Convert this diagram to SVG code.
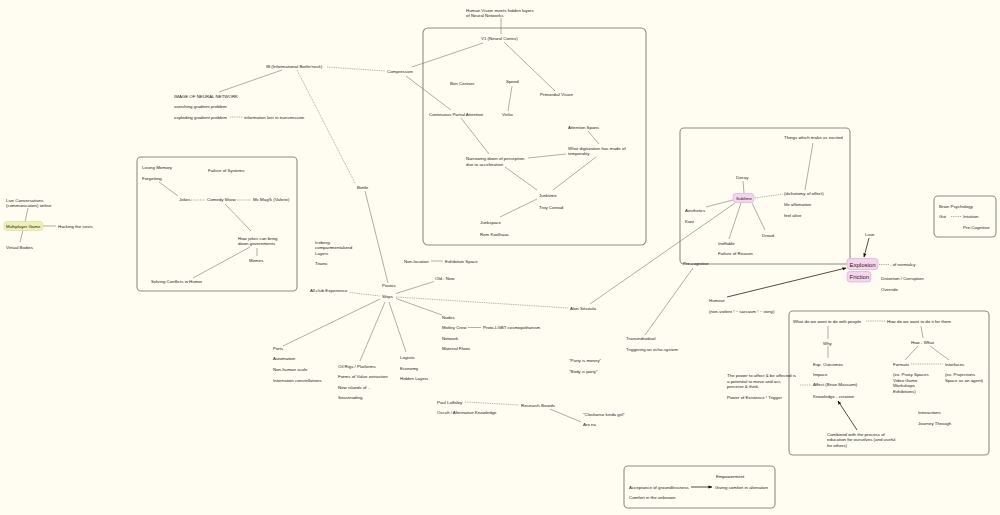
<svg xmlns="http://www.w3.org/2000/svg" width="1000" height="515" viewBox="0 0 1000 515">
<defs>
<style>
text{font-family:"Liberation Sans",Arial,sans-serif;font-size:4.4px;fill:#222}
.big{font-size:6px}
.l{stroke:#7a7a74;stroke-width:0.6;fill:none}
.d{stroke-dasharray:1 0.8}
.a{stroke:#222;stroke-width:0.8;fill:none}
.box{fill:none;stroke:#8e8e86;stroke-width:1.1}
.pk{fill:#f6d4ec;stroke:#e2aed4;stroke-width:0.7}
.yl{fill:#eff0b6;stroke:#dfe0a0;stroke-width:0.7}
</style>
<marker id="ar" viewBox="0 0 10 10" refX="9" refY="5" markerWidth="5" markerHeight="5" orient="auto"><path d="M0,1 L10,5 L0,9 z" fill="#111"/></marker>
</defs>
<rect width="1000" height="515" fill="#fffdf1"/>
<g id="boxes">
<rect class="box" x="137" y="157" width="160" height="134" rx="4"/>
<rect class="box" x="423" y="28" width="223" height="217" rx="5"/>
<rect class="box" x="680" y="128" width="170" height="136" rx="4"/>
<rect class="box" x="934" y="196" width="62" height="41" rx="4"/>
<rect class="box" x="789" y="311" width="200" height="144" rx="4"/>
<rect class="box" x="624" y="466" width="151" height="42" rx="4"/>
</g>
<g id="connectors">
<line class="l" x1="501" y1="18" x2="501" y2="34"/>
<line class="l" x1="412" y1="67" x2="483" y2="43"/>
<line class="l" x1="504" y1="42" x2="555" y2="91"/>
<line class="l" x1="512" y1="86" x2="508" y2="111"/>
<line class="l" x1="406" y1="76" x2="451" y2="110"/>
<line class="l" x1="461" y1="118" x2="489" y2="154"/>
<line class="l" x1="588" y1="131" x2="599" y2="144"/>
<line class="l" x1="528" y1="158" x2="566" y2="154"/>
<line class="l" x1="596" y1="157" x2="553" y2="190"/>
<line class="l" x1="505" y1="167" x2="537" y2="190"/>
<line class="l" x1="537" y1="199" x2="500" y2="217"/>
<line class="l" x1="219" y1="92" x2="282" y2="70"/>
<line class="l d" x1="327" y1="67" x2="385" y2="71"/>
<line class="l d" x1="230" y1="117" x2="243" y2="117"/>
<line class="l d" x1="297" y1="70" x2="355" y2="183"/>
<line class="l" x1="365" y1="191" x2="388" y2="283"/>
<line class="l" x1="813" y1="143" x2="805" y2="190"/>
<line class="l" x1="743" y1="181" x2="744" y2="193"/>
<line class="l d" x1="755" y1="198" x2="783" y2="194"/>
<line class="l" x1="752" y1="203" x2="765" y2="230"/>
<line class="l" x1="706" y1="207" x2="733" y2="200"/>
<line class="l" x1="741" y1="203" x2="729" y2="239"/>
<line class="l" x1="735" y1="203" x2="590" y2="304"/>
<line class="l" x1="693" y1="268" x2="645" y2="335"/>
<line class="l d" x1="396" y1="297" x2="568" y2="308"/>
<line class="a" x1="727" y1="297" x2="846" y2="268" marker-end="url(#ar)"/>
<line class="a" x1="869" y1="238" x2="864" y2="257" marker-end="url(#ar)"/>
<line class="l d" x1="879" y1="264.5" x2="889" y2="264.5"/>
<line class="l d" x1="951" y1="216.5" x2="962" y2="216.5"/>
<line class="l d" x1="866" y1="321" x2="885" y2="321"/>
<line class="l" x1="828" y1="326" x2="828" y2="339"/>
<line class="l" x1="921" y1="326" x2="923" y2="338"/>
<line class="l" x1="828" y1="346" x2="828" y2="358"/>
<line class="a" x1="857" y1="430" x2="838" y2="401" marker-end="url(#ar)"/>
<line class="l d" x1="800" y1="385" x2="811" y2="385"/>
<line class="l" x1="918" y1="346" x2="905" y2="360"/>
<line class="l" x1="930" y1="346" x2="949" y2="360"/>
<line class="l d" x1="911" y1="364" x2="943" y2="364"/>
<line class="a" x1="691" y1="487" x2="712" y2="487" marker-end="url(#ar)"/>
<line class="l" x1="28" y1="208" x2="25" y2="222"/>
<line class="l" x1="23" y1="230" x2="20" y2="242"/>
<line class="l" x1="43" y1="226" x2="56" y2="226"/>
<line class="l" x1="159" y1="182" x2="178" y2="196"/>
<line class="l d" x1="191" y1="200" x2="205" y2="200"/>
<line class="l d" x1="237" y1="200" x2="251" y2="200"/>
<line class="l" x1="225" y1="204" x2="251" y2="231"/>
<line class="l" x1="257" y1="248" x2="257" y2="256"/>
<line class="l" x1="250" y1="247" x2="193" y2="278"/>
<line class="l" x1="431" y1="261" x2="443" y2="261"/>
<line class="l d" x1="350" y1="292.5" x2="380" y2="296"/>
<line class="l" x1="396" y1="293.5" x2="434" y2="281.5"/>
<line class="l" x1="396" y1="298.5" x2="442" y2="315"/>
<line class="l" x1="468" y1="327.5" x2="481" y2="327.5"/>
<line class="l" x1="389" y1="302" x2="406" y2="352"/>
<line class="l" x1="385" y1="302" x2="360" y2="361"/>
<line class="l" x1="380" y1="299" x2="283" y2="346"/>
<line class="l d" x1="465" y1="402" x2="519" y2="405"/>
<line class="l" x1="550" y1="409" x2="581" y2="422"/>
</g>
<g id="n-vision"><text x="466" y="11.6">Human Vision meets hidden layers</text><text x="466" y="17.1">of Neural Networks</text></g>
<g id="n-v1"><text x="481" y="39.6">V1 (Neural Cortex)</text></g>
<g id="n-ben"><text x="450" y="84.6">Ben Cervani</text></g>
<g id="n-speed"><text x="506" y="82.6">Speed</text></g>
<g id="n-primordial"><text x="540" y="96.1">Primordial Vision</text></g>
<g id="n-virilio"><text x="502" y="116.1">Virilio</text></g>
<g id="n-cpa"><text x="429" y="115.6">Continuous Partial Attention</text></g>
<g id="n-compression"><text x="387" y="72.6">Compression</text></g>
<g id="n-ib"><text x="266" y="67.6">IB (Informational Bottle'neck)</text></g>
<g id="n-image"><text x="174" y="97.6">IMAGE OF NEURAL NETWORK</text></g>
<g id="n-vanishing"><text x="174" y="108.1">vanishing gradient problem</text></g>
<g id="n-exploding"><text x="174" y="118.6">exploding gradient problem</text></g>
<g id="n-info"><text x="244" y="118.6">information lost in transmission</text></g>
<g id="n-narrowing"><text x="466" y="160.1">Narrowing down of perception</text><text x="466" y="165.6">due to acceleration</text></g>
<g id="n-attention"><text x="568" y="128.6">Attention Spans</text></g>
<g id="n-digit"><text x="568" y="149.6">What digitization has made of</text><text x="568" y="155.1">temporality</text></g>
<g id="n-junktime"><text x="539" y="196.6">Junktime</text></g>
<g id="n-troy"><text x="539" y="208.6">Troy Conrad</text></g>
<g id="n-junkspace"><text x="480" y="224.1">Junkspace</text></g>
<g id="n-rem"><text x="480" y="235.6">Rem Koolhaas</text></g>
<g id="n-bottle"><text x="357" y="188.6">Bottle</text></g>
<g id="n-things"><text x="784" y="139.1">Things which make us excited</text></g>
<g id="n-dichotomy"><text x="784" y="195.1">(dichotomy of affect)</text></g>
<g id="n-life"><text x="784" y="205.6">life affirmation</text></g>
<g id="n-feel"><text x="784" y="216.6">feel alive</text></g>
<g id="n-decay"><text x="736" y="178.6">Decay</text></g>
<g id="n-sublime"><rect class="pk" x="733" y="193.5" width="21" height="9" rx="3"/><text x="736" y="199.6">Sublime</text></g>
<g id="n-dread"><text x="762" y="236.6">Dread</text></g>
<g id="n-aesthetics"><text x="685" y="211.6">Aesthetics</text></g>
<g id="n-kant"><text x="685" y="222.6">Kant</text></g>
<g id="n-ineffable"><text x="718" y="244.6">Ineffable</text></g>
<g id="n-failure-reason"><text x="718" y="255.1">Failure of Reason</text></g>
<g id="n-precog"><text x="683" y="264.6">Pre-cognitive</text></g>
<g id="n-alan"><text x="570" y="310.1">Alan Sécoula</text></g>
<g id="n-trans"><text x="626" y="339.6">Transindividual</text></g>
<g id="n-trigger-echo"><text x="626" y="350.6">Triggering an echo-system</text></g>
<g id="n-humour"><text x="709" y="301.6">Humour</text></g>
<g id="n-nonviolent"><text x="709" y="312.6">(non-violent ! ~ sarcasm ! ~ irony)</text></g>
<g id="n-love"><text x="865" y="235.6">Love</text></g>
<g id="n-explosion"><rect class="pk" x="847" y="258.5" width="31" height="11" rx="3"/><text class="big" x="849.5" y="266.6">Explosion</text></g>
<g id="n-friction"><rect class="pk" x="847" y="271.5" width="24" height="10.5" rx="3"/><text class="big" x="849.5" y="279.2">Friction</text></g>
<g id="n-normalcy"><text x="890" y="266.1">- of normalcy</text></g>
<g id="n-distortion"><text x="881" y="280.1">Distortion / Corruption</text></g>
<g id="n-override"><text x="881" y="290.6">Override</text></g>
<g id="n-brain"><text x="939" y="207.6">Brain Psychology</text></g>
<g id="n-gut"><text x="939" y="218.1">Gut</text></g>
<g id="n-intuition"><text x="963" y="218.1">Intuition</text></g>
<g id="n-precog2"><text x="963" y="228.6">Pre-Cognitive</text></g>
<g id="n-whatdo"><text x="793" y="322.6">What do we want to do with people</text></g>
<g id="n-howdo"><text x="887" y="322.6">How do we want to do it for them</text></g>
<g id="n-why"><text x="823" y="344.6">Why</text></g>
<g id="n-howwhat"><text x="911" y="344.1">How - What</text></g>
<g id="n-exp"><text x="813" y="365.6">Exp. Outcomes</text></g>
<g id="n-impace"><text x="813" y="375.6">Impace</text></g>
<g id="n-affect"><text x="813" y="386.1">Affect (Brian Massumi)</text></g>
<g id="n-knowledge"><text x="813" y="397.6">Knowledge - creation</text></g>
<g id="n-combined"><text x="827" y="435.6">Combined with the process of</text><text x="827" y="441.1">education for ourselves (and useful</text><text x="827" y="446.6">for others)</text></g>
<g id="n-power"><text x="727" y="377.1">The power to affect &amp; be affected is</text><text x="727" y="382.6">a potential to move and act,</text><text x="727" y="388.1">perceive &amp; think.</text></g>
<g id="n-existence"><text x="727" y="398.6">Power of Existence ! Trigger</text></g>
<g id="n-formats"><text x="893" y="365.6">Formats</text></g>
<g id="n-interfaces"><text x="945" y="365.6">Interfaces</text></g>
<g id="n-proxy"><text x="893" y="376.1">(ex. Proxy Spaces</text><text x="893" y="381.6">Video Game</text><text x="893" y="387.1">Workshops</text><text x="893" y="392.6">Exhibitions)</text></g>
<g id="n-projections"><text x="945" y="376.1">(ex. Projections</text><text x="945" y="381.6">Space as an agent)</text></g>
<g id="n-interactions"><text x="918" y="414.1">Interactions</text></g>
<g id="n-journey"><text x="918" y="424.6">Journey Through</text></g>
<g id="n-empowerment"><text x="716" y="477.6">Empowerment</text></g>
<g id="n-acceptance"><text x="629" y="488.6">Acceptance of groundlessness</text></g>
<g id="n-giving"><text x="715" y="488.6">Giving comfort in alienation</text></g>
<g id="n-comfort"><text x="629" y="499.1">Comfort in the unknown</text></g>
<g id="n-live"><text x="6" y="201.6">Live Conversations</text><text x="6" y="206.6">(communication) online</text></g>
<g id="n-multiplayer"><rect class="yl" x="4" y="221.5" width="39" height="9" rx="3"/><text x="6" y="227.6">Multiplayer Game</text></g>
<g id="n-hacking"><text x="58" y="227.6">Hacking the costs</text></g>
<g id="n-virtual"><text x="6" y="249.1">Virtual Bodies</text></g>
<g id="n-losing"><text x="142" y="168.6">Losing Memory</text></g>
<g id="n-failure-systems"><text x="208" y="171.6">Failure of Systems</text></g>
<g id="n-forgetting"><text x="142" y="179.6">Forgetting</text></g>
<g id="n-jokes"><text x="179" y="201.1">Jokes</text></g>
<g id="n-comedy"><text x="207" y="201.1">Comedy Show</text></g>
<g id="n-mcmagik"><text x="253" y="201.1">Mc Mag!k (Valerie)</text></g>
<g id="n-howjokes"><text x="238" y="239.6">How jokes can bring</text><text x="238" y="245.1">down governments</text></g>
<g id="n-memes"><text x="249" y="262.1">Memes</text></g>
<g id="n-solving"><text x="151" y="282.6">Solving Conflicts w Humor</text></g>
<g id="n-iceberg"><text x="315" y="243.6">Iceberg-</text><text x="315" y="249.1">compartmentalized</text><text x="315" y="254.6">Layers</text></g>
<g id="n-titanic"><text x="315" y="264.6">Titanic</text></g>
<g id="n-nonloc"><text x="404" y="262.6">Non-location</text></g>
<g id="n-exhibition"><text x="445" y="262.6">Exhibition Space</text></g>
<g id="n-oldnew"><text x="435" y="280.1">Old - New</text></g>
<g id="n-pirates"><text x="382" y="287.1">Pirates</text></g>
<g id="n-allclub"><text x="310" y="292.1">All club Experience</text></g>
<g id="n-ships"><text x="382" y="297.6">Ships</text></g>
<g id="n-nodes"><text x="442" y="318.6">Nodes</text></g>
<g id="n-motley"><text x="442" y="329.1">Motley Crew</text></g>
<g id="n-proto"><text x="483" y="329.1">Proto-LGBT cosmopolitanism</text></g>
<g id="n-network"><text x="442" y="339.6">Network</text></g>
<g id="n-material"><text x="442" y="350.1">Material Flows</text></g>
<g id="n-logistic"><text x="400" y="358.6">Logistic</text></g>
<g id="n-economy"><text x="400" y="369.6">Economy</text></g>
<g id="n-hidden"><text x="400" y="379.6">Hidden Layers</text></g>
<g id="n-oilrigs"><text x="338" y="367.6">Oil Rigs / Platforms</text></g>
<g id="n-forms"><text x="338" y="378.1">Forms of Value extraction</text></g>
<g id="n-islands"><text x="338" y="388.6">New islands of ...</text></g>
<g id="n-seasteading"><text x="338" y="399.1">Seasteading</text></g>
<g id="n-ports"><text x="273" y="349.6">Ports</text></g>
<g id="n-automation"><text x="273" y="360.1">Automation</text></g>
<g id="n-nonhuman"><text x="273" y="370.6">Non-human scale</text></g>
<g id="n-internation"><text x="273" y="381.6">Internation constellations</text></g>
<g id="n-party"><text x="569" y="361.6">"Party is money"</text></g>
<g id="n-body"><text x="569" y="372.6">"Body is party"</text></g>
<g id="n-paul"><text x="437" y="403.6">Paul Laffoley</text></g>
<g id="n-occult"><text x="437" y="414.1">Occult / Alternative Knowledge</text></g>
<g id="n-research"><text x="521" y="406.6">Research Boards</text></g>
<g id="n-clockwise"><text x="583" y="415.6">"Clockwise kinda girl"</text></g>
<g id="n-arena"><text x="583" y="426.1">Are.na</text></g>
</svg>
